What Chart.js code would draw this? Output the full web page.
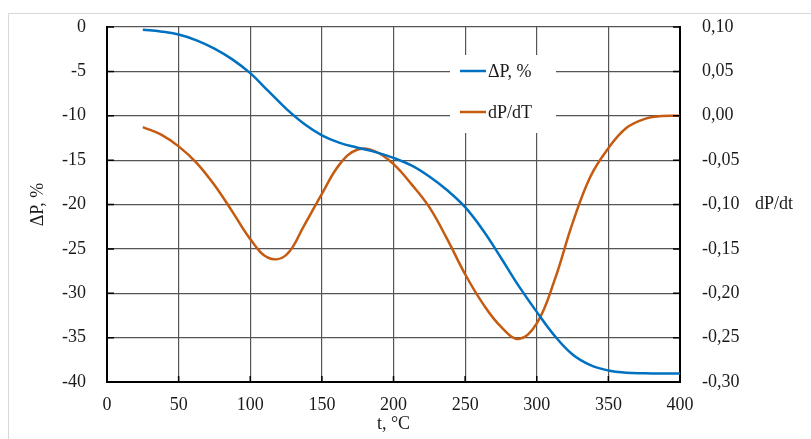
<!DOCTYPE html>
<html>
<head>
<meta charset="utf-8">
<script src="https://cdn.jsdelivr.net/npm/chart.js@4.4.1/dist/chart.umd.min.js"></script>
<style>
  html, body { margin: 0; padding: 0; background: #fff; }
  #wrap { width: 811px; height: 439px; position: relative; }
</style>
</head>
<body>
<div id="wrap"><canvas id="chart" width="811" height="439"></canvas></div>
<script>
// temperature, deg C (both series read every 12.5 degrees)
const temps = [25, 37.5, 50, 62.5, 75, 87.5, 100, 112.5, 125, 137.5, 150, 162.5, 175, 187.5, 200, 212.5, 225, 237.5, 250, 262.5, 275, 287.5, 300, 312.5, 325, 337.5, 350, 362.5, 375, 387.5, 400];
// mass change, %
const deltaP = [-0.3, -0.5, -0.85, -1.5, -2.43, -3.65, -5.2, -7.2, -9.2, -10.9, -12.2, -13.05, -13.6, -14.1, -14.75, -15.6, -16.85, -18.4, -20.3, -22.9, -26.0, -29.2, -32.1, -34.8, -36.9, -38.1, -38.7, -38.95, -39.02, -39.05, -39.05];
// derivative dP/dT
const dPdT = [-0.0128, -0.021, -0.0345, -0.053, -0.078, -0.108, -0.139, -0.1600, -0.1570, -0.124, -0.088, -0.0545, -0.038, -0.0405, -0.0545, -0.077, -0.103, -0.139, -0.1786, -0.212, -0.2376, -0.2515, -0.234, -0.185, -0.121, -0.0684, -0.0365, -0.0139, -0.0038, -0.0004, 0];

const seriesNames = ['ΔP, %', 'dP/dT'];
const colors = ['rgb(0,112,192)', 'rgb(197,90,17)'];
const FONT = "'Liberation Serif', 'Times New Roman', serif";
Chart.defaults.font.family = FONT;
Chart.defaults.font.size = 18;
Chart.defaults.color = '#1a1a1a';

function pairs(xs, ys){
    return xs.map((x, i) => ({x: x, y: ys[i]}));
}

// light frame around the whole picture, inner tick marks, legend box, right label
const extras = {
    id: 'extras',
    beforeDraw(chart){
        const c = chart.ctx;
        c.save();
        c.strokeStyle = '#d9d9d9';
        c.lineWidth = 1;
        c.strokeRect(8.5, 13.5, 900, 500);
        c.restore();
    },
    afterDraw(chart){
        const c = chart.ctx;
        const a = chart.chartArea;
        const sx = chart.scales.x, sy = chart.scales.y, sy2 = chart.scales.y2;
        c.save();
        c.strokeStyle = '#000';
        c.lineWidth = 1.5;
        c.beginPath();
        sy.ticks.forEach(t => { const p = sy.getPixelForValue(t.value); c.moveTo(a.left, p); c.lineTo(a.left + 7, p); });
        sy2.ticks.forEach(t => { const p = sy2.getPixelForValue(t.value); c.moveTo(a.right, p); c.lineTo(a.right - 7, p); });
        sx.ticks.forEach(t => { const p = sx.getPixelForValue(t.value); c.moveTo(p, a.bottom); c.lineTo(p, a.bottom - 6); });
        c.stroke();

        // legend
        c.fillStyle = '#fff';
        c.fillRect(450, 55, 106, 78);
        const rows = [71, 112];
        c.font = '18px ' + FONT;
        c.textBaseline = 'middle';
        c.textAlign = 'left';
        rows.forEach((y, i) => {
            c.strokeStyle = colors[i];
            c.lineWidth = 2.5;
            c.beginPath();
            c.moveTo(460, y); c.lineTo(486, y);
            c.stroke();
            c.fillStyle = '#1a1a1a';
            c.fillText(seriesNames[i], 488, y + 1);
        });

        // right axis name next to the -0,10 label
        c.fillText('dP/dt', 755, sy2.getPixelForValue(-0.10));
        c.restore();
    }
};

function fixWidth(w){
    return s => { s.width = w; s.paddingTop = 0; s.paddingBottom = 0; };
}

const ctx = document.getElementById('chart').getContext('2d');
const config = {
    type: 'line',
    data: {
        datasets: [{
            label: seriesNames[0],
            data: pairs(temps, deltaP),
            borderColor: colors[0],
            borderWidth: 2.5,
            pointRadius: 0,
            tension: 0.4,
            yAxisID: 'y'
        }, {
            label: seriesNames[1],
            data: pairs(temps, dPdT),
            borderColor: colors[1],
            borderWidth: 2.5,
            pointRadius: 0,
            tension: 0.4,
            yAxisID: 'y2'
        }]
    },
    options: {
        responsive: false,
        animation: false,
        layout: { padding: { top: 27, left: 0, right: 0, bottom: 0 } },
        plugins: {
            legend: { display: false },
            tooltip: { enabled: false }
        },
        scales: {
            x: {
                type: 'linear',
                min: 0, max: 400,
                afterFit: s => { s.height = 57; s.paddingLeft = 0; s.paddingRight = 0; },
                ticks: { stepSize: 50, padding: 12 },
                grid: { color: '#555', lineWidth: 1.2, drawTicks: false },
                border: { color: '#000', width: 2 },
                title: { display: true, text: 't, °C', padding: { top: 0, bottom: 4 } }
            },
            y: {
                position: 'left',
                min: -40, max: 0,
                afterFit: fixWidth(107),
                ticks: { stepSize: 5, padding: 21 },
                grid: { color: '#555', lineWidth: 1.2, drawTicks: false },
                border: { color: '#000', width: 2 },
                title: { display: true, text: 'ΔP, %', padding: { top: 27, bottom: 0 } }
            },
            y2: {
                position: 'right',
                min: -0.30, max: 0.10,
                afterFit: fixWidth(131),
                ticks: {
                    stepSize: 0.05, padding: 22,
                    callback: v => v.toFixed(2).replace('.', ',').replace('-0,00', '0,00')
                },
                grid: { drawOnChartArea: false, drawTicks: false },
                border: { color: '#000', width: 2 }
            }
        }
    },
    plugins: [extras]
};
new Chart(ctx, config);
</script>
</body>
</html>
